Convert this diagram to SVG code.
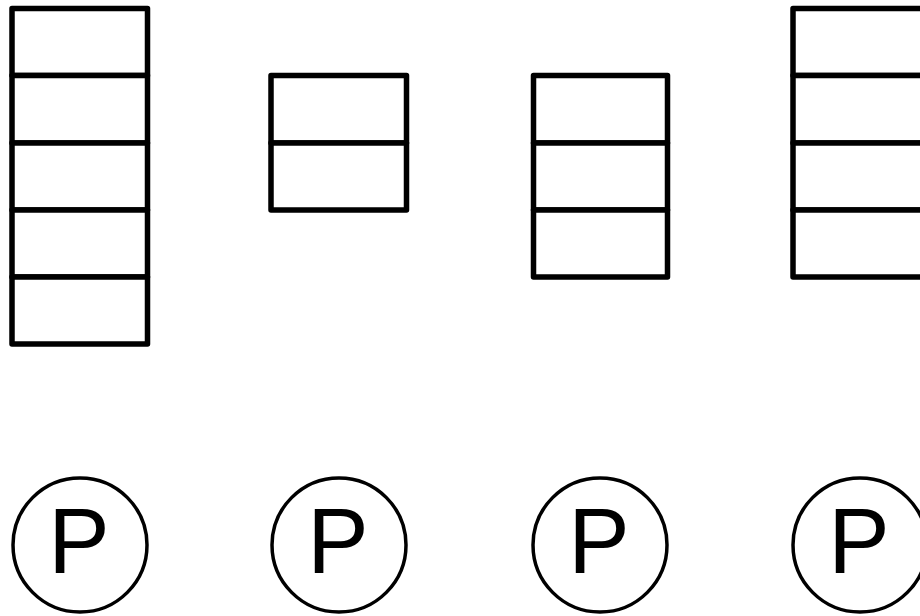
<svg xmlns="http://www.w3.org/2000/svg" width="920" height="616" viewBox="0 0 920 616">
<style>
.cell{fill:#fff;stroke:#000;stroke-width:5.5;stroke-linejoin:round}
.pc{fill:#fff;stroke:#000;stroke-width:3.5}
.pt{font-family:"Liberation Sans",Arial,sans-serif;font-size:92px;fill:#000;text-anchor:middle}
</style>
<rect width="920" height="616" fill="#fff"/>
<g id="stack1">
<rect class="cell" x="12" y="8.5" width="135.5" height="67"/>
<rect class="cell" x="12" y="75.5" width="135.5" height="67.5"/>
<rect class="cell" x="12" y="143" width="135.5" height="67"/>
<rect class="cell" x="12" y="210" width="135.5" height="67"/>
<rect class="cell" x="12" y="277" width="135.5" height="67"/>
</g>
<g id="stack2">
<rect class="cell" x="271" y="75.5" width="135.5" height="67.5"/>
<rect class="cell" x="271" y="143" width="135.5" height="67"/>
</g>
<g id="stack3">
<rect class="cell" x="533.5" y="75.5" width="134" height="67.5"/>
<rect class="cell" x="533.5" y="143" width="134" height="67"/>
<rect class="cell" x="533.5" y="210" width="134" height="67"/>
</g>
<g id="stack4">
<rect class="cell" x="793" y="8.5" width="135.5" height="67"/>
<rect class="cell" x="793" y="75.5" width="135.5" height="67.5"/>
<rect class="cell" x="793" y="143" width="135.5" height="67"/>
<rect class="cell" x="793" y="210" width="135.5" height="67"/>
</g>
<g id="p1"><circle class="pc" cx="80" cy="545" r="67"/><text class="pt" x="79" y="573">P</text></g>
<g id="p2"><circle class="pc" cx="339" cy="545" r="67"/><text class="pt" x="338" y="573">P</text></g>
<g id="p3"><circle class="pc" cx="600" cy="545" r="67"/><text class="pt" x="599" y="573">P</text></g>
<g id="p4"><circle class="pc" cx="860" cy="545" r="67"/><text class="pt" x="859" y="573">P</text></g>
</svg>
